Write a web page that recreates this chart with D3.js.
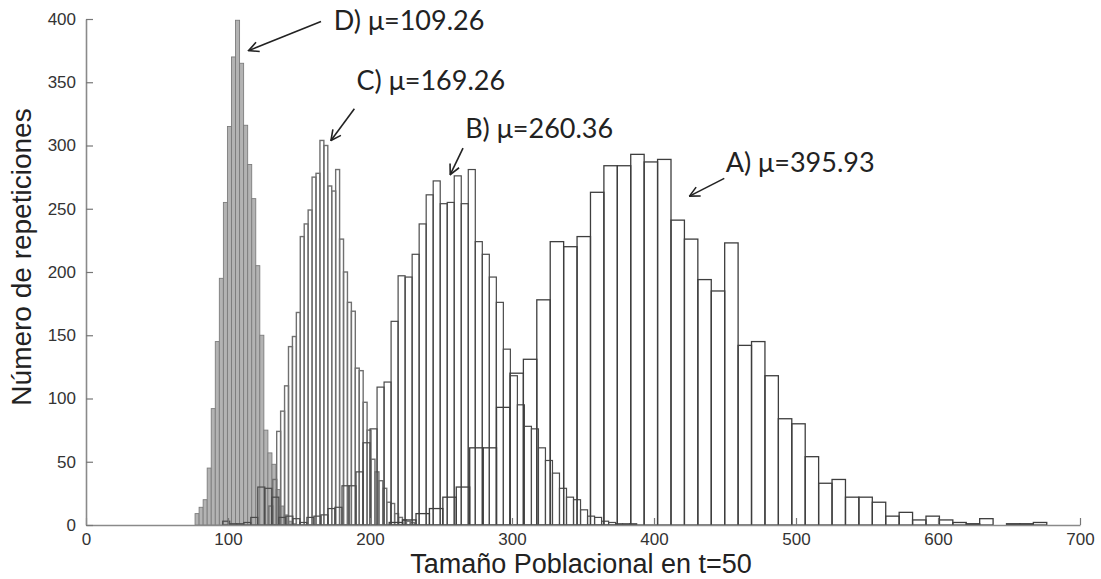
<!DOCTYPE html>
<html>
<head>
<meta charset="utf-8">
<script src="https://cdn.jsdelivr.net/npm/d3@7"></script>
<style>
  body { margin: 0; background: #fff; }
  .tick text { font-family: "Liberation Sans", Arial, sans-serif; font-size: 17px; fill: #333; }
</style>
</head>
<body>
<svg id="chart" width="1101" height="579"></svg>
<script>

// histogram bins (left edge of first bin, bin width, counts)
const aStart = 213.5, aWidth = 9.451
const aCounts = [2,4,9,13,22,30,61,61,93,120,131,178,224,220,228,263,284,284,293,287,289,241,226,194,185,223,142,145,118,84,80,54,33,36,22,22,18,7,10,4,7,4,2,1,5,0,1,1,2]

const bStart = 96.27, bWidth = 4.941
const bCounts = [3,1,1,2,6,30,29,22,6,7,5,2,6,7,8,13,14,31,31,42,65,76,109,113,161,197,196,214,238,261,272,254,255,276,254,281,224,214,196,176,139,118,95,78,76,61,51,41,29,22,20,12,7,6,3,2,1,1,1]

const cStart = 128.76, cWidth = 2.768
const cCounts = [15,36,74,90,110,141,149,168,228,238,249,275,278,304,300,268,264,281,226,200,176,169,124,122,97,75,52,42,35,29,18,17,9,6,4,3,2]

const dStart = 76.8, dWidth = 2.85
const dCounts = [9,14,20,45,92,145,195,255,315,370,399,365,316,285,258,205,150,75,57,48,28,15,8,3,1]

const xTicks = [0,100,200,300,400,500,600,700]
const yTicks = [0,50,100,150,200,250,300,350,400]

// labels with mean, text anchor and arrow (data units)
const labels   = ["D) μ=109.26", "C) μ=169.26", "B) μ=260.36", "A) μ=395.93"]
const labelPos = [[174.5, 399], [190.5, 351.5], [267, 313.6], [450.5, 286.7]]
const arrowFrom = [[165.5, 398], [189, 329], [265.5, 298], [449.5, 274]]
const arrowTo   = [[114.5, 375], [172.5, 304], [256.5, 277], [425, 260]]

const svg = d3.select("#chart")

const x = d3.scaleLinear().domain([0, 700]).range([86, 1080])
const y = d3.scaleLinear().domain([0, 400]).range([525, 19])

function bins(start, w, counts) {
  return counts.map((n, i) => ({x0: start + i*w, x1: start + (i+1)*w, n: n}))
               .filter(d => d.n > 0)
}

function drawHist(data, fill, stroke, sw) {
  svg.append("g")
    .selectAll("rect")
    .data(data)
    .enter()
    .append("rect")
    .attr("x", d => x(d.x0))
    .attr("width", d => x(d.x1) - x(d.x0))
    .attr("y", d => y(d.n))
    .attr("height", d => y(0) - y(d.n))
    .attr("fill", fill)
    .attr("stroke", stroke)
    .attr("stroke-width", sw)
}

// D goes first (grey), the others are only outlines on top
drawHist(bins(dStart, dWidth, dCounts), "#b3b3b3", "#7c7c7c", 0.9)
drawHist(bins(cStart, cWidth, cCounts), "none", "#707070", 1.4)
drawHist(bins(bStart, bWidth, bCounts), "none", "#4a4a4a", 1.2)
drawHist(bins(aStart, aWidth, aCounts), "none", "#3e3e3e", 1.3)

// axes, ticks pointing inward like matlab
let xAxis = svg.append("g")
  .attr("transform", "translate(0," + y(0) + ")")
  .call(d3.axisBottom(x).tickValues(xTicks).tickSizeInner(-7).tickSizeOuter(0).tickPadding(8))
let yAxis = svg.append("g")
  .attr("transform", "translate(" + x(0) + ",0)")
  .call(d3.axisLeft(y).tickValues(yTicks).tickSizeInner(-7).tickSizeOuter(0).tickPadding(10))

svg.selectAll(".domain").attr("stroke", "#8a8a8a").attr("stroke-width", 1.6)
svg.selectAll(".tick line").attr("stroke", "#777").attr("stroke-width", 1.2)

svg.append("text")
  .attr("x", 581).attr("y", 573)
  .attr("text-anchor", "middle")
  .attr("font-family", "'Liberation Sans', Arial, sans-serif")
  .attr("font-size", 27)
  .attr("fill", "#222")
  .text("Tamaño Poblacional en t=50")

svg.append("text")
  .attr("transform", "translate(31,257) rotate(-90)")
  .attr("text-anchor", "middle")
  .attr("font-family", "'Liberation Sans', Arial, sans-serif")
  .attr("font-size", 28)
  .attr("fill", "#222")
  .text("Número de repeticiones")

// annotations
svg.append("defs").append("marker")
  .attr("id", "head")
  .attr("viewBox", "0 0 12 12")
  .attr("refX", 11).attr("refY", 6)
  .attr("markerWidth", 12).attr("markerHeight", 12)
  .attr("markerUnits", "userSpaceOnUse")
  .attr("orient", "auto")
  .append("path")
  .attr("d", "M1,1 L11,6 L1,11")
  .attr("fill", "none")
  .attr("stroke", "#222")
  .attr("stroke-width", 1.6)

labels.forEach(function(t, i) {
  svg.append("line")
    .attr("x1", x(arrowFrom[i][0])).attr("y1", y(arrowFrom[i][1]))
    .attr("x2", x(arrowTo[i][0])).attr("y2", y(arrowTo[i][1]))
    .attr("stroke", "#222")
    .attr("stroke-width", 1.6)
    .attr("marker-end", "url(#head)")
  svg.append("text")
    .attr("x", x(labelPos[i][0])).attr("y", y(labelPos[i][1]))
    .attr("dy", "0.35em")
    .attr("font-family", "Lato, 'Open Sans', sans-serif")
    .attr("font-size", 27)
    .attr("fill", "#222")
    .text(t)
})

</script>
</body>
</html>
